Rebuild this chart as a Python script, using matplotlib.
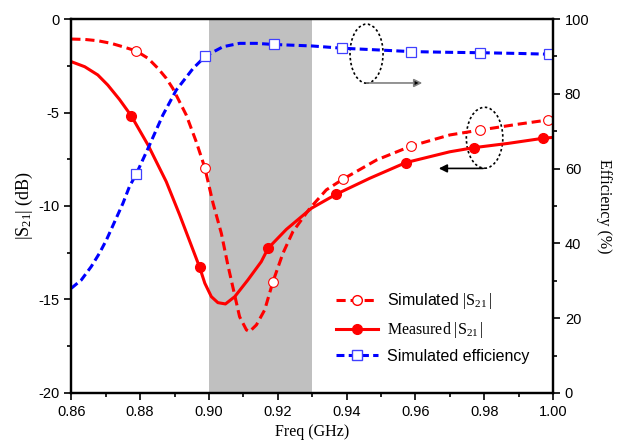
import numpy as np
import matplotlib.pyplot as plt
from matplotlib.patches import Ellipse
from matplotlib.lines import Line2D

plt.rcParams['font.family'] = ['Liberation Sans', 'DejaVu Sans']
plt.rcParams['mathtext.fontset'] = 'custom'
plt.rcParams['mathtext.rm'] = 'Liberation Serif'
plt.rcParams['mathtext.it'] = 'Liberation Serif:italic'
plt.rcParams['axes.unicode_minus'] = False

# simulated |S21| (dB)
sim_f = [0.8600, 0.8639, 0.8677, 0.8716, 0.8755, 0.8789, 0.8823, 0.8852, 0.8876,
         0.8895, 0.8934, 0.8963, 0.8988, 0.9012, 0.9036, 0.9055, 0.9089, 0.9109,
         0.9118, 0.9138, 0.9162, 0.9186, 0.9215, 0.9244, 0.9293, 0.9341, 0.9389,
         0.9487, 0.9588, 0.9700, 0.9787, 0.9900, 0.9985, 1.0]
sim_s21 = [-1.07, -1.09, -1.16, -1.30, -1.51, -1.71, -2.10, -2.64, -3.17,
           -3.71, -5.13, -6.56, -7.95, -9.86, -11.46, -13.16, -15.92, -16.63,
           -16.72, -16.36, -15.56, -14.05, -12.53, -11.37, -10.13, -9.14, -8.57,
           -7.54, -6.79, -6.20, -5.94, -5.62, -5.40, -5.37]
sim_marks = [5, 12, 21, 26, 28, 30, 32]

# measured |S21| (dB)
meas_f = [0.8600, 0.8639, 0.8677, 0.8706, 0.8740, 0.8774, 0.8823, 0.8876, 0.8915,
          0.8973, 0.8988, 0.9007, 0.9026, 0.9048, 0.9075, 0.9113, 0.9152, 0.9172,
          0.9225, 0.9298, 0.9370, 0.9467, 0.9572, 0.9700, 0.9770, 0.9870, 0.9970, 1.0]
meas_s21 = [-2.28, -2.55, -2.99, -3.53, -4.30, -5.17, -6.74, -8.70, -10.48,
            -13.28, -14.13, -14.85, -15.17, -15.24, -14.85, -13.96, -12.98, -12.26,
            -11.25, -10.12, -9.37, -8.52, -7.68, -7.10, -6.88, -6.65, -6.38, -6.33]
meas_marks = [5, 9, 17, 20, 22, 24, 26]

# simulated efficiency (%)
eff_f = [0.8600, 0.8629, 0.8658, 0.8682, 0.8702, 0.8726, 0.8750, 0.8769, 0.8789,
         0.8823, 0.8866, 0.8905, 0.8954, 0.8990, 0.9041, 0.9089, 0.9138, 0.9188,
         0.9300, 0.9387, 0.9500, 0.9586, 0.9700, 0.9787, 0.9900, 0.9987, 1.0]
eff = [28.0, 30.2, 33.8, 37.4, 40.9, 45.8, 50.7, 55.2, 58.6,
       65.4, 74.3, 81.0, 86.8, 90.1, 92.6, 93.5, 93.5, 93.2,
       92.8, 92.2, 91.7, 91.3, 91.1, 91.0, 90.8, 90.6, 90.5]
eff_marks = [8, 13, 17, 19, 21, 23, 25]

fig, ax = plt.subplots(figsize=(6.2, 4.43), dpi=100)
fig.subplots_adjust(left=0.115, right=0.892, top=0.957, bottom=0.113)

ax.axvspan(0.90, 0.93, color='#c0c0c0', lw=0, zorder=0)

ax.plot(sim_f, sim_s21, color='red', lw=2.2, ls=(0, (3, 1.6)),
        marker='o', markevery=sim_marks, ms=7, mfc='white', mec='red', mew=0.8)
ax.plot(meas_f, meas_s21, color='red', lw=2.2, ls='-',
        marker='o', markevery=meas_marks, ms=7, mfc='red', mec='red')

ax.set_xlim(0.86, 1.0)
ax.set_ylim(-20, 0)
ax.set_xticks(np.arange(0.86, 1.001, 0.02))
ax.set_xticks(np.arange(0.87, 1.0, 0.02), minor=True)
ax.set_xticklabels(['%.2f' % v for v in np.arange(0.86, 1.001, 0.02)])
ax.set_yticks([0, -5, -10, -15, -20])
ax.set_yticks([-2.5, -7.5, -12.5, -17.5], minor=True)
ax.tick_params(axis='both', which='major', direction='out', length=5, width=1.2, labelsize=10.5)
ax.tick_params(axis='both', which='minor', direction='out', length=3, width=1.2)
ax.tick_params(top=False, which='both')
for s in ax.spines.values():
    s.set_linewidth(1.6)

ax.set_xlabel('Freq (GHz)', family='Liberation Serif', fontsize=11.5, labelpad=4)
ax.set_ylabel(r'$|\mathrm{S}_{21}|\ \mathrm{(dB)}$', fontsize=13, labelpad=2)

ax2 = ax.twinx()
ax2.plot(eff_f, eff, color='blue', lw=2.2, ls=(0, (2.6, 1.4)),
         marker='s', markevery=eff_marks, ms=7, mfc='white', mec='#4040ff', mew=0.9)
ax2.set_ylim(0, 100)
ax2.set_yticks([0, 20, 40, 60, 80, 100])
ax2.set_yticks([10, 30, 50, 70, 90], minor=True)
ax2.tick_params(axis='y', which='major', direction='out', length=5, width=1.2, labelsize=10.5)
ax2.tick_params(axis='y', which='minor', direction='out', length=3, width=1.2)
for s in ax2.spines.values():
    s.set_linewidth(1.6)
ax2.set_ylabel('Efficiency (%)', family='Liberation Serif', fontsize=11.5, rotation=270, labelpad=16)

# annotation ellipses and arrows
ax.add_patch(Ellipse((0.9458, -1.85), 0.0096, 3.16, fill=False, ec='black', ls=(0, (1.5, 1.5)), lw=1.2))
ax.annotate('', xy=(0.9620, -3.42), xytext=(0.9458, -3.42),
            arrowprops=dict(arrowstyle='-|>', color='#808080', lw=1.2, mutation_scale=12,
                            shrinkA=0, shrinkB=0, fc='black'))
ax.add_patch(Ellipse((0.9801, -6.35), 0.0106, 3.26, fill=False, ec='black', ls=(0, (1.5, 1.5)), lw=1.2))
ax.annotate('', xy=(0.9668, -7.99), xytext=(0.9797, -7.99),
            arrowprops=dict(arrowstyle='-|>', color='black', lw=1.2, mutation_scale=12,
                            shrinkA=0, shrinkB=0))

handles = [
    Line2D([], [], color='red', lw=2.2, ls=(0, (3, 1.6)), marker='o', ms=7, mfc='white', mec='red'),
    Line2D([], [], color='red', lw=2.2, ls='-', marker='o', ms=7, mfc='red', mec='red'),
    Line2D([], [], color='blue', lw=2.2, ls=(0, (2.6, 1.4)), marker='s', ms=7, mfc='white', mec='#4040ff'),
]
labels = [r'Simulated $|\mathrm{S}_{21}\,|$', r'$\mathrm{Measured}\ |\mathrm{S}_{21}\,|$',
          'Simulated efficiency']
ax2.legend(handles, labels, loc='upper left', bbox_to_anchor=(0.52, 0.31), frameon=False,
           fontsize=11.5, handlelength=2.6, labelspacing=0.55, handletextpad=0.6)

fig.savefig('out.png', dpi=100)
